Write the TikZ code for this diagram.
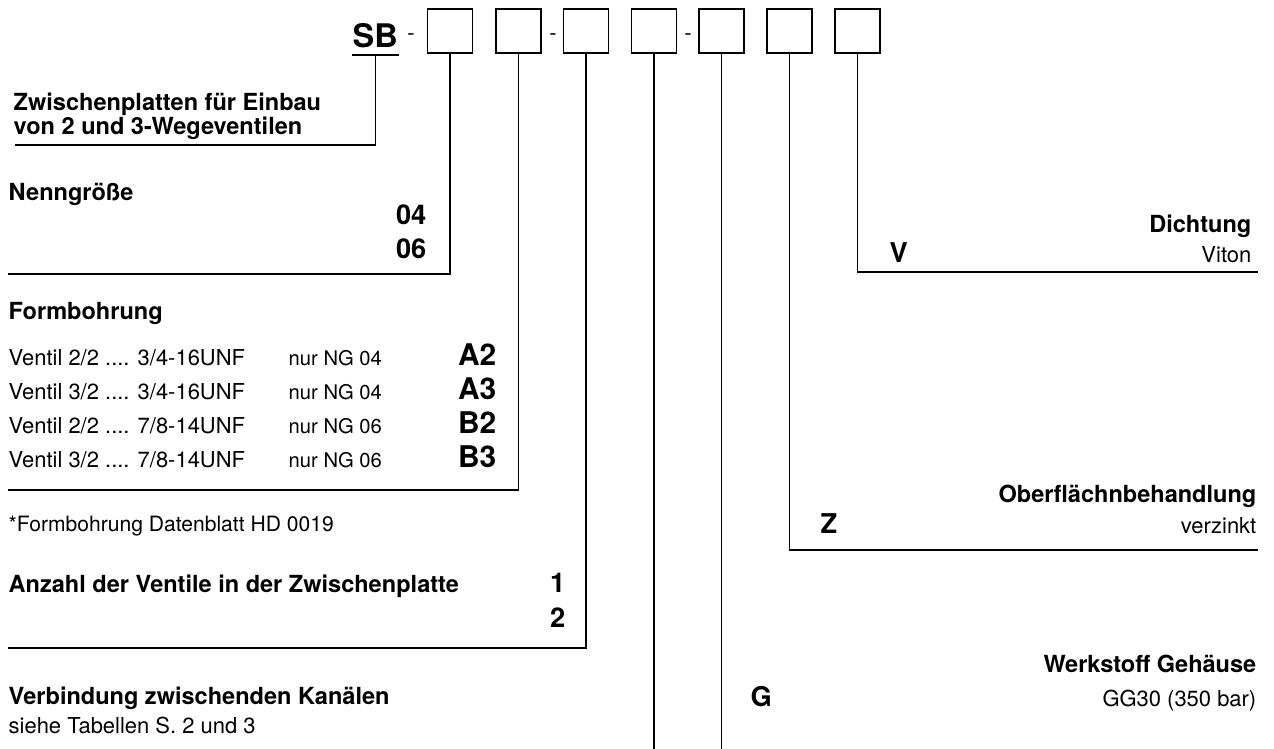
\documentclass[tikz,border=0pt]{standalone}
\usepackage{fontspec}
\setmainfont{TeX Gyre Heros}
\usetikzlibrary{positioning}

\begin{document}
\begin{tikzpicture}[x=0.02cm, y=-0.02cm, line width=0.8pt,
  codebox/.style={draw, line width=1.1pt, minimum width=0.9cm, minimum height=0.88cm, inner sep=0pt},
  head/.style={font=\fontsize{13.4}{16}\selectfont\bfseries, inner sep=0pt},
  txt/.style={font=\fontsize{12.5}{15}\selectfont, inner sep=0pt},
  small/.style={font=\fontsize{11.5}{14}\selectfont, inner sep=0pt},
  code/.style={font=\fontsize{15.5}{18}\selectfont\bfseries, inner sep=0pt},
  bigcode/.style={font=\fontsize{17}{20}\selectfont\bfseries, inner sep=0pt}]
\useasboundingbox (0,0) rectangle (1274,749);

% Typenschluessel
\node[font=\fontsize{18.5}{22}\selectfont\bfseries, inner sep=0pt, anchor=base west] (sb) at (352,48) {SB};
\node[codebox] (b1) at (450,31) {};
\node[codebox] (b2) at (518.5,31) {};
\node[codebox] (b3) at (586,31) {};
\node[codebox] (b4) at (654,31) {};
\node[codebox] (b5) at (721.5,31) {};
\node[codebox] (b6) at (789.5,31) {};
\node[codebox] (b7) at (857.5,31) {};
\node[txt, anchor=base] (d1) at (411,41) {-};
\node[txt, anchor=base] (d2) at (553,41) {-};
\node[txt, anchor=base] (d3) at (688,41) {-};
\draw ([yshift=-3.4pt]sb.south west) -- ([yshift=-3.4pt]sb.south east);

% linke Seite
\node[head, anchor=base west] (zw1) at (13,111) {Zwischenplatten für Einbau};
\node[head, anchor=base west] (zw2) at (13,135) {von 2 und 3-Wegeventilen};
\node[head, anchor=base west] (ng) at (8,201) {Nenngröße};
\node[code, anchor=base east] (ng04) at (427,225) {04};
\node[code, anchor=base east] (ng06) at (427,259) {06};
\node[head, anchor=base west] (fb) at (8,320) {Formbohrung};
\foreach \i/\ve/\ge/\nr/\co in {0/2/3\slash4-16UNF/04/A2, 1/3/3\slash4-16UNF/04/A3, 2/2/7\slash8-14UNF/06/B2, 3/3/7\slash8-14UNF/06/B3}{
  \node[txt, anchor=base west] (fv\i) at (8,{366+34*\i}) {Ventil \ve/2 .... \ge};
  \node[small, anchor=base west] (fn\i) at (288,{366+34*\i}) {nur NG \nr};
  \node[bigcode, anchor=base east] (fc\i) at (497,{366+34*\i}) {\co};
}
\node[font=\fontsize{12}{14}\selectfont, inner sep=0pt, anchor=base west] (hd) at (8,531) {*Formbohrung Datenblatt HD 0019};
\node[head, anchor=base west] (anz) at (8,592) {Anzahl der Ventile in der Zwischenplatte};
\node[code, anchor=base east] (anz1) at (566,592) {1};
\node[code, anchor=base east] (anz2) at (566,627) {2};
\node[head, anchor=base west] (vk) at (8,704) {Verbindung zwischenden Kanälen};
\node[txt, anchor=base west] (vk2) at (8,733) {siehe Tabellen S. 2 und 3};

% rechte Seite
\node[head, anchor=base east] (di) at (1252,233) {Dichtung};
\node[code, anchor=base west] (diV) at (889,263) {V};
\node[txt, anchor=base east] (di2) at (1252,263) {Viton};
\node[head, anchor=base east] (ob) at (1257,502) {Oberflächnbehandlung};
\node[code, anchor=base west] (obZ) at (820,533) {Z};
\node[txt, anchor=base east] (ob2) at (1257,533) {verzinkt};
\node[head, anchor=base east] (ws) at (1257,672) {Werkstoff Gehäuse};
\node[code, anchor=base west] (wsG) at (750,706) {G};
\node[txt, anchor=base east] (ws2) at (1257,706) {GG30 (350 bar)};

% Zuordnungslinien
\coordinate (l0) at (15,145);
\coordinate (l1) at (8,274);
\coordinate (l2) at (8,490);
\coordinate (l3) at (8,648);
\coordinate (l4) at (654,749);
\coordinate (l5) at (721.5,749);
\coordinate (r6) at (1258,550);
\coordinate (r7) at (1258,272);
\draw ([yshift=-3.4pt]sb.south) |- (l0);
\draw (b1.south) |- (l1);
\draw (b2.south) |- (l2);
\draw (b3.south) |- (l3);
\draw (b4.south) -- (l4);
\draw (b5.south) -- (l5);
\draw (b6.south) |- (r6);
\draw (b7.south) |- (r7);
\end{tikzpicture}
\end{document}
